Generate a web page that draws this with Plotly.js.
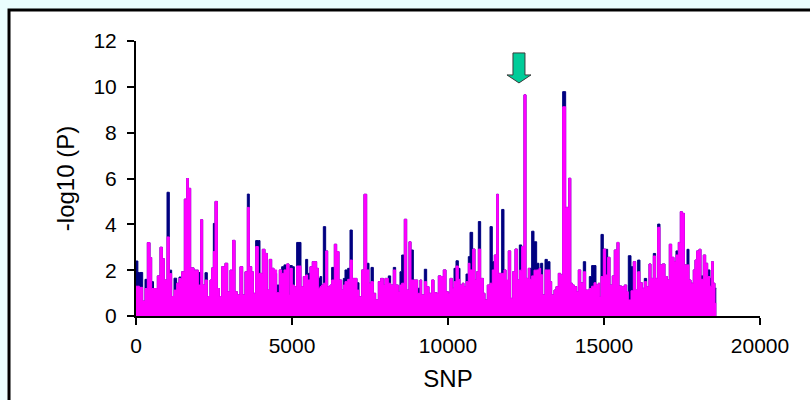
<!DOCTYPE html>
<html>
<head>
<meta charset="utf-8">
<script src="https://cdn.plot.ly/plotly-3.0.1.min.js"></script>
<style>html,body{margin:0;padding:0;background:#EAFEFE;}#chart{width:810px;height:400px;}</style>
</head>
<body>
<div id="chart"></div>
<script>
// SNP index positions
var snp = [
0,60,107,214,288,363,449,502,560,609,
684,769,844,908,994,1068,1143,1218,1303,1378,
1464,1549,1624,1677,1752,1859,1930,1998,2073,2137,
2211,2286,2372,2425,2479,2532,2607,2671,2746,2852,
2938,3013,3098,3173,3248,3333,3419,3493,3568,3632,
3707,3761,3835,3921,3974,4049,4134,4209,4273,4348,
4423,4508,4594,4669,4743,4829,4904,4936,5011,5075,
5149,5224,5288,5363,5438,5502,5577,5651,5737,5790,
5844,5897,5951,6004,6079,6143,6218,6271,6357,6431,
6506,6592,6645,6698,6784,6859,6933,7019,7083,7147,
7233,7307,7393,7468,7532,7607,7681,7767,7842,7927,
7980,8087,8162,8247,8322,8408,8461,8515,8600,8675,
8750,8814,8889,8963,9027,9102,9156,9241,9316,9391,
9476,9551,9636,9690,9775,9850,9936,10010,10064,10138,
10192,10256,10331,10384,10459,10512,10577,10651,10705,10790,
10865,10918,10972,11047,11132,11185,11260,11346,11420,11485,
11560,11613,11666,11720,11794,11859,11933,12008,12072,12147,
12222,12286,12361,12435,12500,12574,12628,12681,12756,12842,
12916,12970,13034,13109,13184,13269,13322,13397,13461,13536,
13611,13675,13771,13870,13935,13985,14049,14123,14177,14252,
14337,14412,14465,14529,14604,14679,14743,14818,14860,14903,
14978,15053,15117,15192,15266,15330,15416,15480,15566,15651,
15726,15779,15865,15939,16014,16078,16153,16228,16292,16367,
16442,16506,16580,16655,16720,16794,16869,16954,17029,17093,
17168,17243,17307,17382,17446,17510,17574,17660,17724,17788,
17862,17916,17970,18044,18108,18183,18258,18322,18397,18450,
18504,18557,18600
];
// -log10(P), navy series
var navyP = [
2.4,1.9,1.9,0.65,1.6,3.2,2.55,1.5,1.2,1.2,
1.75,3.0,2.5,1.57,5.4,2.0,0.85,1.65,1.43,1.7,
1.93,5.1,6.0,5.57,2.1,2.0,2.0,1.9,4.2,1.35,
1.89,0.85,1.57,2.1,4.04,5.0,1.2,0.85,2.15,2.3,
1.06,2.0,3.3,1.06,0.92,2.15,0.92,1.93,5.32,2.15,
1.93,0.99,3.29,3.29,1.86,2.91,2.73,1.13,2.47,2.08,
1.86,1.35,2.01,2.15,2.23,2.27,0.92,2.2,2.15,1.28,
3.21,3.21,1.28,1.72,2.47,1.86,2.15,2.37,2.37,2.08,
1.64,1.72,1.35,3.9,2.84,1.28,1.35,2.12,3.13,2.81,
1.57,1.13,1.64,2.01,2.08,3.75,1.64,1.64,1.45,0.84,
2.01,5.31,2.3,1.43,2.12,0.99,0.7,1.5,1.64,1.35,
1.64,1.75,1.35,2.12,1.35,1.06,1.93,2.66,4.22,1.13,
3.24,2.88,1.57,1.57,1.21,1.57,0.92,2.04,1.28,0.99,
1.57,1.02,0.99,1.75,1.72,2.01,1.06,0.99,1.64,1.21,
2.08,2.41,2.08,1.35,1.43,1.28,1.83,2.59,3.65,2.92,
1.57,1.93,4.12,1.64,0.99,0.7,1.35,3.9,2.37,2.66,
5.31,1.86,1.86,4.65,2.01,1.35,2.84,0.77,1.93,2.92,
1.57,3.1,3.03,9.65,1.64,2.08,2.08,3.7,3.24,2.3,
2.08,2.3,0.92,2.47,2.37,1.5,0.92,1.13,1.28,1.86,
1.79,9.79,4.74,6.01,1.43,1.35,1.28,1.06,2.01,1.45,
2.37,1.13,1.13,1.72,2.2,2.2,1.35,1.43,0.84,3.56,
2.92,2.91,2.56,1.35,1.75,2.88,3.21,1.31,1.28,1.35,
0.77,2.63,2.15,2.37,1.13,2.44,1.45,1.21,1.64,1.28,
2.27,1.64,2.73,1.64,4.01,2.23,2.27,1.72,1.57,3.13,
2.56,2.37,2.84,3.21,4.55,4.48,2.23,2.91,1.57,1.43,
2.01,2.44,2.84,2.91,1.75,2.66,2.3,2.01,1.64,2.37,
1.43,1.21,1.21
];
// -log10(P), magenta series
var magentaP = [
1.3,1.3,1.25,0.65,1.2,3.2,2.55,1.2,1.2,1.2,
1.75,3.0,2.5,1.57,3.45,1.85,0.85,1.13,1.43,1.64,
1.93,5.1,6.0,5.57,2.1,2.0,2.0,1.35,4.2,1.35,
1.57,0.85,1.57,2.1,2.81,5.0,1.2,0.85,2.15,2.3,
1.06,2.0,3.3,1.06,0.92,2.15,0.92,1.93,4.74,2.15,
1.93,0.99,3.03,1.86,1.86,2.91,2.73,1.13,2.47,2.08,
2.01,1.02,2.01,1.86,2.01,2.27,0.92,2.08,1.35,1.28,
2.18,2.18,1.28,1.72,1.79,1.57,2.15,2.37,2.37,2.08,
1.21,1.28,1.35,1.43,2.84,1.28,1.35,1.57,3.13,2.81,
1.57,1.13,1.35,1.5,1.6,2.44,1.64,1.64,1.13,0.84,
2.01,5.31,2.01,1.43,1.5,0.99,0.7,1.5,1.64,1.35,
1.64,1.43,1.35,2.01,1.35,1.06,1.35,1.43,4.22,1.13,
3.24,1.57,1.57,1.57,0.99,1.57,0.92,1.5,1.28,0.99,
1.57,1.02,0.99,1.75,1.72,2.01,1.06,0.99,1.64,1.21,
1.5,2.18,1.6,1.35,1.43,1.28,1.5,2.3,2.01,2.92,
1.57,1.93,2.92,1.64,0.99,0.7,1.35,1.43,2.01,2.66,
5.31,1.86,1.86,1.86,2.01,1.57,2.84,0.77,1.93,2.92,
1.57,2.0,3.03,9.65,1.64,2.08,1.6,1.75,2.0,2.01,
2.08,1.8,0.92,2.01,2.01,1.5,0.92,1.13,1.28,1.86,
1.79,9.13,4.74,6.01,1.43,1.35,1.28,1.06,2.01,1.45,
1.93,1.13,1.13,1.2,1.3,1.45,1.35,1.43,0.84,1.72,
2.92,1.79,2.56,1.35,1.75,2.88,3.21,1.31,1.28,1.35,
1.06,0.7,1.1,2.37,1.13,1.93,1.45,1.21,1.5,1.28,
2.27,1.64,2.62,1.64,3.87,2.23,2.27,1.72,1.57,3.13,
2.56,2.37,2.66,3.21,4.55,4.48,2.23,2.23,1.57,1.43,
2.01,2.44,2.84,2.91,1.6,2.66,2.3,1.72,1.3,2.37,
1.43,0.55,0.55
];
var xTicks = [0, 5000, 10000, 15000, 20000];
var yTicks = [0, 2, 4, 6, 8, 10, 12];
var arrowSNP = 12275, arrowTipP = 10.17;

var font = 'Liberation Sans, Arial, sans-serif';
var traces = [
  {x: snp, y: navyP, type: 'scatter', mode: 'lines', line: {shape: 'hv', color: '#000080', width: 1},
   fill: 'tozeroy', fillcolor: '#000080', hoverinfo: 'skip', showlegend: false},
  {x: snp, y: magentaP, type: 'scatter', mode: 'lines', line: {shape: 'hv', color: '#FF00FF', width: 1},
   fill: 'tozeroy', fillcolor: '#FF00FF', hoverinfo: 'skip', showlegend: false}
];
var axisCommon = {showgrid: false, zeroline: false, showline: true, linecolor: '#000', linewidth: 2,
  ticks: 'outside', ticklen: 7, tickwidth: 2, tickcolor: '#000',
  tickfont: {family: font, size: 21, color: '#000'}};
var layout = {
  width: 810, height: 400,
  paper_bgcolor: '#EAFEFE', plot_bgcolor: 'rgba(0,0,0,0)',
  margin: {l: 136, r: 50, t: 41, b: 84},
  xaxis: Object.assign({}, axisCommon, {range: [0, 20000], tickvals: xTicks, ticktext: xTicks.map(String),
    ticklabelstandoff: 3,
    title: {text: 'SNP', font: {family: font, size: 24, color: '#000'}, standoff: 14}}),
  yaxis: Object.assign({}, axisCommon, {range: [0, 12], tickvals: yTicks, ticktext: yTicks.map(String),
    ticklabelstandoff: 6,
    title: {text: '-log10 (P)', font: {family: font, size: 24, color: '#000'}, standoff: 12}}),
  shapes: [
    {type: 'rect', xref: 'paper', yref: 'paper', x0: -0.2035, x1: 1.2, y0: -0.4, y1: 1.1127,
     fillcolor: '#FFFFFF', line: {color: '#000', width: 3}, layer: 'below'},
    {type: 'path', xref: 'x', yref: 'y', xsizemode: 'pixel', ysizemode: 'pixel',
     xanchor: arrowSNP, yanchor: arrowTipP,
     path: 'M0,0 L-12,8 L-6,8 L-6,30 L6,30 L6,8 L12,8 Z',
     fillcolor: '#00CC99', line: {color: '#3A3A3A', width: 1}}
  ]
};
Plotly.newPlot('chart', traces, layout, {staticPlot: true, displayModeBar: false});
</script>
</body>
</html>
